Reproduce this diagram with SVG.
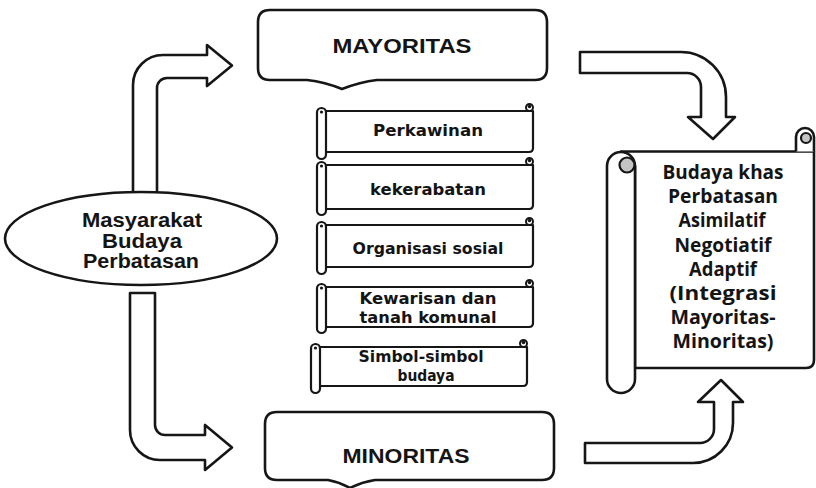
<svg xmlns="http://www.w3.org/2000/svg" width="816" height="488" viewBox="0 0 816 488">
  <style>
    .ln { fill: #fff; stroke: #161616; stroke-width: 2.6; stroke-linejoin: round; }
    .thin { fill: #fff; stroke: #161616; stroke-width: 2.2; stroke-linejoin: round; }
    .curl { fill: #c4c4c4; stroke: #161616; stroke-width: 2.2; }
    .knob { fill: #fff; stroke: #161616; stroke-width: 2; }
    .dot { fill: #161616; }
    .arial { font-family: "Liberation Sans", Arial, sans-serif; font-weight: bold; fill: #141414; text-anchor: middle; }
    .item { font-family: "DejaVu Sans", "Noto Sans", sans-serif; font-weight: bold; font-size: 15px; fill: #141414; text-anchor: middle; }
    .result { font-family: "Open Sans", "Noto Sans", sans-serif; font-weight: bold; font-size: 19px; fill: #141414; text-anchor: middle; }
  </style>

  <rect width="816" height="488" fill="#fff"/>

  <!-- curved block arrows -->
  <g id="connectors">
    <!-- society up to majority -->
    <path class="ln" d="M133,200 V85 A30,30 0 0 1 163,55 H207 V45 L232,65.5 L207,86 V78 H167 A10,10 0 0 0 157,88 V200 Z"/>
    <!-- society down to minority -->
    <path class="ln" d="M130,293 V430 A30,30 0 0 0 160,460 H205 V470 L232,447.5 L205,425 V435 H165 A10,10 0 0 1 155,425 V293 Z"/>
    <!-- majority to border culture -->
    <path class="ln" d="M580,52 H681 A45,45 0 0 1 726,97 V117 H735 L713,139 L688,117 H701 V87 A14,14 0 0 0 687,73 H580 Z"/>
    <!-- minority to border culture -->
    <path class="ln" d="M585,443 H700 A14,14 0 0 0 714,429 V402 H698 L721,380 L743,402 H733 V423 A40,40 0 0 1 693,463 H585 Z"/>
  </g>

  <!-- source community -->
  <g id="masyarakat">
    <ellipse class="ln" cx="141" cy="238.5" rx="136" ry="46.5"/>
    <text class="arial" x="142" y="227" font-size="20" textLength="120" lengthAdjust="spacingAndGlyphs">Masyarakat</text>
    <text class="arial" x="142" y="248" font-size="20" textLength="80" lengthAdjust="spacingAndGlyphs">Budaya</text>
    <text class="arial" x="141" y="268" font-size="20" textLength="116" lengthAdjust="spacingAndGlyphs">Perbatasan</text>
  </g>

  <!-- callout boxes -->
  <g id="mayoritas">
    <path class="ln" d="M270,10 H535 Q547,10 547,22 V68 Q547,80 535,80 H377 Q360,82 342,89 Q325,82 307,80 H270 Q258,80 258,68 V22 Q258,10 270,10 Z"/>
    <text class="arial" x="402" y="53" font-size="21" textLength="139" lengthAdjust="spacingAndGlyphs">MAYORITAS</text>
  </g>

  <g id="minoritas">
    <path class="ln" d="M277,412 H542 Q554,412 554,424 V468 Q554,480 542,480 H375 Q362,482 350,488 Q339,482 328,480 H277 Q265,480 265,468 V424 Q265,412 277,412 Z"/>
    <text class="arial" x="406" y="463" font-size="21" textLength="127" lengthAdjust="spacingAndGlyphs">MINORITAS</text>
  </g>

  <!-- small scrolls: cultural domains -->
  <g id="perkawinan">
    <path class="thin" d="M321,111 H533 V148 Q533,152 529,152 H321 Z"/>
    <circle class="knob" cx="529.5" cy="107.5" r="3.5"/>
    <circle class="dot" cx="529.5" cy="106.5" r="1.8"/>
    <rect class="thin" x="317" y="108" width="9" height="51" rx="4.5"/>
    <circle class="dot" cx="321.5" cy="112" r="1.6"/>
    <text class="item" x="428" y="136" textLength="110" lengthAdjust="spacingAndGlyphs">Perkawinan</text>
  </g>

  <g id="kekerabatan">
    <path class="thin" d="M321,165 H533 V205 Q533,209 529,209 H321 Z"/>
    <circle class="knob" cx="529.5" cy="161.5" r="3.5"/>
    <circle class="dot" cx="529.5" cy="160.5" r="1.8"/>
    <rect class="thin" x="317" y="162" width="9" height="53" rx="4.5"/>
    <circle class="dot" cx="321.5" cy="166" r="1.6"/>
    <text class="item" x="428" y="195" textLength="116" lengthAdjust="spacingAndGlyphs">kekerabatan</text>
  </g>

  <g id="organisasi">
    <path class="thin" d="M321,225 H533 V263 Q533,267 529,267 H321 Z"/>
    <circle class="knob" cx="529.5" cy="221.5" r="3.5"/>
    <circle class="dot" cx="529.5" cy="220.5" r="1.8"/>
    <rect class="thin" x="317" y="222" width="9" height="52" rx="4.5"/>
    <circle class="dot" cx="321.5" cy="226" r="1.6"/>
    <text class="item" x="428" y="254" textLength="151" lengthAdjust="spacingAndGlyphs">Organisasi sosial</text>
  </g>

  <g id="kewarisan">
    <path class="thin" d="M321,287 H533 V323 Q533,327 529,327 H321 Z"/>
    <circle class="knob" cx="529.5" cy="283.5" r="3.5"/>
    <circle class="dot" cx="529.5" cy="282.5" r="1.8"/>
    <rect class="thin" x="317" y="284" width="9" height="49" rx="4.5"/>
    <circle class="dot" cx="321.5" cy="288" r="1.6"/>
    <text class="item" x="428" y="304" textLength="137" lengthAdjust="spacingAndGlyphs">Kewarisan dan</text>
    <text class="item" x="428" y="323" textLength="137" lengthAdjust="spacingAndGlyphs">tanah komunal</text>
  </g>

  <g id="simbol">
    <path class="thin" d="M315,347 H527 V382 Q527,386 523,386 H315 Z"/>
    <circle class="knob" cx="523.5" cy="343.5" r="3.5"/>
    <circle class="dot" cx="523.5" cy="342.5" r="1.8"/>
    <rect class="thin" x="311" y="344" width="9" height="49" rx="4.5"/>
    <circle class="dot" cx="315.5" cy="348" r="1.6"/>
    <text class="item" x="421" y="362" textLength="125" lengthAdjust="spacingAndGlyphs">Simbol-simbol</text>
    <text class="item" x="426" y="381" textLength="57" lengthAdjust="spacingAndGlyphs">budaya</text>
  </g>

  <!-- large scroll: resulting border culture -->
  <g id="budaya-khas">
    <path class="ln" d="M621,151.5 H814 V360 Q814,368 806,368 H635 V166 Z"/>
    <!-- right top curl -->
    <path class="ln" d="M796,151.5 V137 A9,9 0 0 1 814,137 V151.5"/>
    <circle class="curl" cx="806" cy="138" r="5"/>
    <!-- left roll -->
    <path class="ln" d="M607,166 A14,14 0 0 1 621,152 A14,14 0 0 1 635,166 V379 A14,14 0 0 1 607,379 Z"/>
    <circle class="curl" cx="627" cy="165" r="7.5"/>
    <text class="result" x="723" y="179" textLength="121" lengthAdjust="spacingAndGlyphs">Budaya khas</text>
    <text class="result" x="723" y="203" textLength="110" lengthAdjust="spacingAndGlyphs">Perbatasan</text>
    <text class="result" x="722" y="227" textLength="87" lengthAdjust="spacingAndGlyphs">Asimilatif</text>
    <text class="result" x="723" y="252" textLength="97" lengthAdjust="spacingAndGlyphs">Negotiatif</text>
    <text class="result" x="723" y="276" textLength="68" lengthAdjust="spacingAndGlyphs">Adaptif</text>
    <text class="result" x="723" y="300" textLength="107" lengthAdjust="spacingAndGlyphs">(Integrasi</text>
    <text class="result" x="723" y="324" textLength="105" lengthAdjust="spacingAndGlyphs">Mayoritas-</text>
    <text class="result" x="723" y="348" textLength="101" lengthAdjust="spacingAndGlyphs">Minoritas)</text>
  </g>
</svg>
